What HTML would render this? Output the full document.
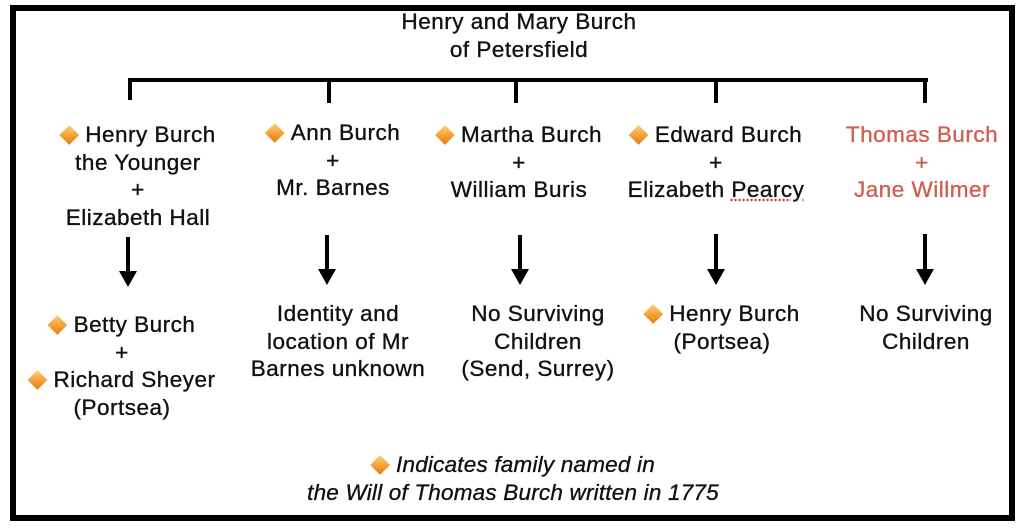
<!DOCTYPE html>
<html><head><style>
body{margin:0;width:1024px;height:530px;background:#fff;position:relative;overflow:hidden;font-family:"Liberation Sans",sans-serif;color:#111}
.frame{position:absolute;left:10px;top:5px;width:993px;height:504px;border:6px solid #000}
.t{position:absolute;text-align:center;font-size:22.5px;line-height:27.5px;white-space:nowrap;transform:translateX(-50%);letter-spacing:0.5px;-webkit-text-stroke:0.35px currentColor}
.d{display:inline-block;width:14px;height:14px;transform:rotate(45deg);background:linear-gradient(135deg,#fbd27a,#f39a2c 60%,#e07d18);margin:0 9px 3px 2px;vertical-align:middle;-webkit-text-stroke:0}
.r{color:#cf5f50}
.l{position:absolute;background:#000}
.ah{position:absolute;width:0;height:0;border-left:9px solid transparent;border-right:9px solid transparent;border-top:16px solid #000}
</style></head><body>
<div class="frame"></div>
<div class="t" style="left:519px;top:8px">Henry and Mary Burch<br>of Petersfield</div>
<div class="l" style="left:128px;top:78px;width:800px;height:4px"></div>
<div class="l" style="left:128px;top:78px;width:4px;height:22px"></div>
<div class="l" style="left:327px;top:78px;width:4px;height:25px"></div>
<div class="l" style="left:514px;top:78px;width:4px;height:25px"></div>
<div class="l" style="left:714px;top:78px;width:4px;height:25px"></div>
<div class="l" style="left:923px;top:78px;width:4px;height:25px"></div>

<div class="t" style="left:138px;top:121px"><span class="d"></span>Henry Burch<br>the Younger<br>+<br>Elizabeth Hall</div>
<div class="t" style="left:333px;top:119px"><span class="d"></span>Ann Burch<br>+<br>Mr. Barnes</div>
<div class="t" style="left:519px;top:121px"><span class="d"></span>Martha Burch<br>+<br>William Buris</div>
<div class="t" style="left:716px;top:121px"><span class="d"></span>Edward Burch<br>+<br>Elizabeth <span style="text-decoration:underline dotted #c33">Pearcy</span></div>
<div class="t r" style="left:922px;top:121px">Thomas Burch<br>+<br>Jane Willmer</div>

<div class="l" style="left:126px;top:237px;width:4px;height:36px"></div><div class="ah" style="left:119px;top:271px"></div>
<div class="l" style="left:325px;top:235px;width:4px;height:36px"></div><div class="ah" style="left:318px;top:269px"></div>
<div class="l" style="left:518px;top:235px;width:4px;height:36px"></div><div class="ah" style="left:511px;top:269px"></div>
<div class="l" style="left:714px;top:234px;width:4px;height:37px"></div><div class="ah" style="left:707px;top:269px"></div>
<div class="l" style="left:923px;top:234px;width:4px;height:37px"></div><div class="ah" style="left:916px;top:269px"></div>

<div class="t" style="left:122px;top:311px"><span class="d"></span>Betty Burch<br>+<br><span class="d"></span>Richard Sheyer<br>(Portsea)</div>
<div class="t" style="left:338px;top:300px">Identity and<br>location of Mr<br>Barnes unknown</div>
<div class="t" style="left:538px;top:300px">No Surviving<br>Children<br>(Send, Surrey)</div>
<div class="t" style="left:722px;top:300px"><span class="d"></span>Henry Burch<br>(Portsea)</div>
<div class="t" style="left:926px;top:300px">No Surviving<br>Children</div>

<div class="t" style="left:513px;top:451px;font-style:italic;letter-spacing:0.2px"><span class="d"></span>Indicates family named in<br>the Will of Thomas Burch written in 1775</div>
</body></html>
